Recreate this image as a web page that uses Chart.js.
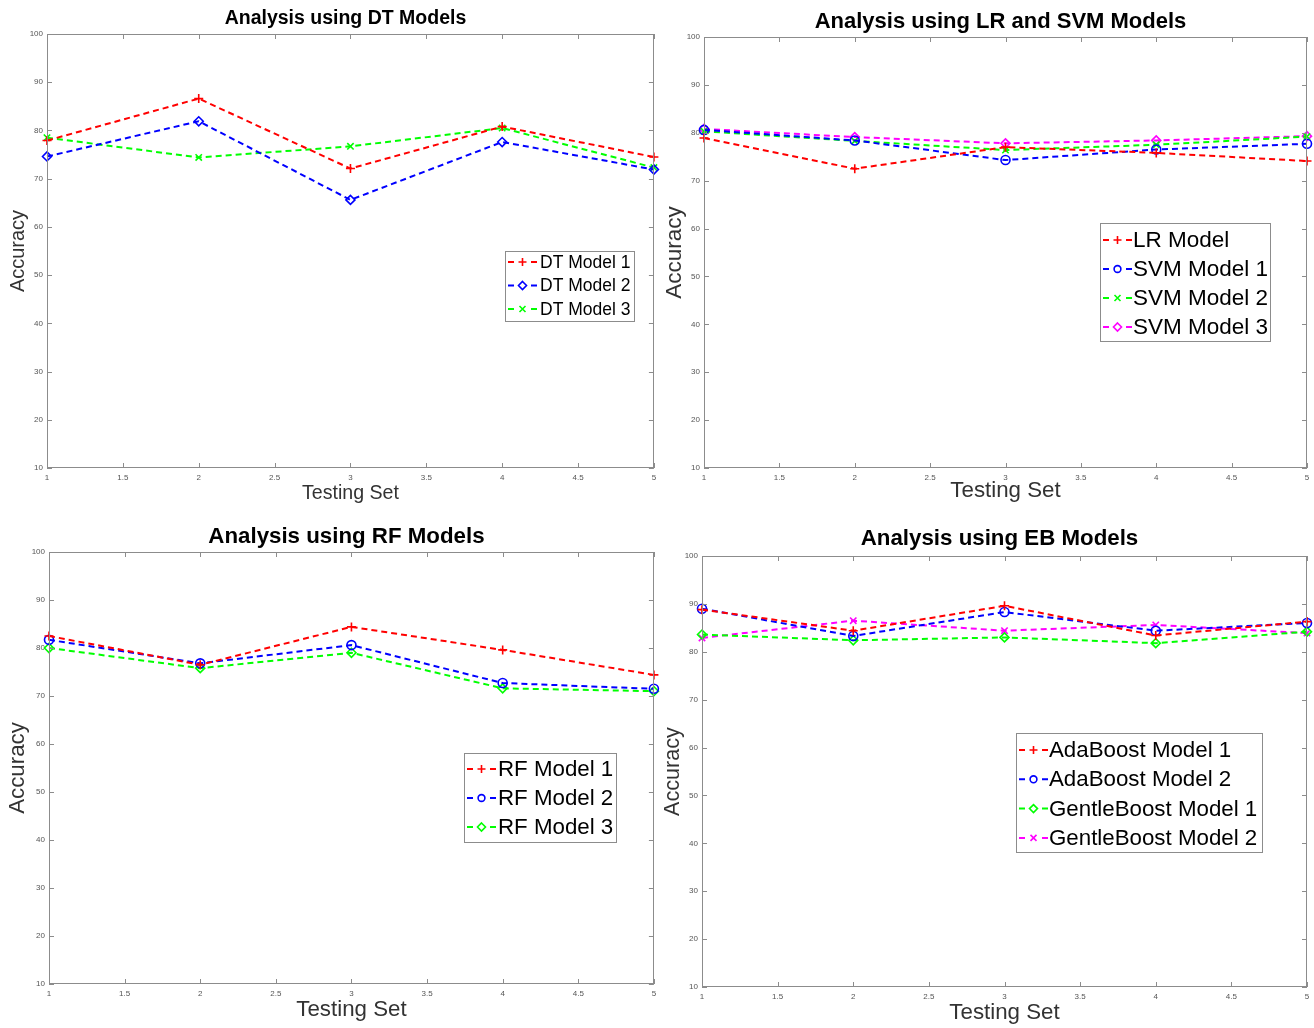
<!DOCTYPE html>
<html>
<head>
<meta charset="utf-8">
<script src="https://cdn.jsdelivr.net/npm/chart.js@4.4.1/dist/chart.umd.min.js"></script>
<style>
  body { margin: 0; background: #fff; width: 1314px; height: 1028px; position: relative; overflow: hidden; }
  canvas { position: absolute; }
</style>
</head>
<body>
<canvas id="dtChart" width="660" height="515" style="left:0;top:0;width:660px;height:515px"></canvas>
<canvas id="svmChart" width="654" height="515" style="left:660px;top:0;width:654px;height:515px"></canvas>
<canvas id="rfChart" width="660" height="513" style="left:0;top:515px;width:660px;height:513px"></canvas>
<canvas id="ebChart" width="654" height="513" style="left:660px;top:515px;width:654px;height:513px"></canvas>
<script>
// axes
const testingSet = [1, 2, 3, 4, 5];
const xTicks = [1, 1.5, 2, 2.5, 3, 3.5, 4, 4.5, 5];
const yTicks = [10, 20, 30, 40, 50, 60, 70, 80, 90, 100];

// DT panel
const dtModel1 = [77.9, 86.6, 72.1, 80.8, 74.5];
const dtModel2 = [74.6, 81.9, 65.6, 77.6, 71.9];
const dtModel3 = [78.5, 74.4, 76.7, 80.5, 72.3];

// LR / SVM panel
const lrModel = [78.9, 72.5, 77.0, 75.8, 74.1];
const svmModel1 = [80.6, 78.4, 74.3, 76.5, 77.7];
const svmModel2 = [80.3, 78.3, 76.4, 77.5, 79.2];
const svmModel3 = [80.8, 79.1, 77.8, 78.4, 79.3];

// RF panel
const rfModel1 = [82.5, 76.5, 84.4, 79.6, 74.4];
const rfModel2 = [81.7, 76.8, 80.6, 72.7, 71.5];
const rfModel3 = [80.0, 75.8, 79.0, 71.6, 71.0];

// EB panel
const adaModel1 = [88.8, 84.4, 89.6, 83.4, 86.3];
const adaModel2 = [89.0, 83.3, 88.3, 84.4, 86.0];
const gentleModel1 = [83.6, 82.4, 83.0, 81.8, 84.2];
const gentleModel2 = [82.9, 86.5, 84.4, 85.6, 83.9];

const FONT = '"Liberation Sans", Arial, Helvetica, sans-serif';
const RED = '#ff0000', BLUE = '#0000ff', GREEN = '#00ff00', MAGENTA = '#ff00ff';
const FRAME = '#8c8c8c';

function series(label, values, color, marker) {
    return {
        label: label,
        data: values.map((v, i) => ({ x: testingSet[i], y: v })),
        borderColor: color, backgroundColor: color,
        borderWidth: 2, borderDash: [6, 4],
        pointStyle: marker, pointRadius: 4.5, pointBorderWidth: 1.6,
        pointBorderColor: color, pointBackgroundColor: 'rgba(0,0,0,0)',
        tension: 0, fill: false, clip: false
    };
}

function drawMarker(ctx, style, x, y, r) {
    ctx.beginPath();
    if (style === 'cross') {
        ctx.moveTo(x - r, y); ctx.lineTo(x + r, y);
        ctx.moveTo(x, y - r); ctx.lineTo(x, y + r);
    } else if (style === 'crossRot') {
        const d = r * 0.75;
        ctx.moveTo(x - d, y - d); ctx.lineTo(x + d, y + d);
        ctx.moveTo(x - d, y + d); ctx.lineTo(x + d, y - d);
    } else if (style === 'rectRot') {
        ctx.moveTo(x, y - r); ctx.lineTo(x + r, y); ctx.lineTo(x, y + r); ctx.lineTo(x - r, y); ctx.closePath();
    } else {
        ctx.arc(x, y, r * 0.85, 0, Math.PI * 2);
    }
    ctx.stroke();
}

// box round the axes with inward ticks on all four sides (matlab look)
const framePlugin = {
    id: 'frame',
    afterDatasetsDraw(chart) {
        const { ctx, chartArea: a, scales } = chart;
        const t = 5;
        ctx.save();
        ctx.strokeStyle = FRAME;
        ctx.lineWidth = 1;
        ctx.setLineDash([]);
        ctx.strokeRect(Math.round(a.left) + 0.5, Math.round(a.top) + 0.5, Math.round(a.width) - 1, Math.round(a.height) - 1);
        ctx.beginPath();
        xTicks.forEach(v => {
            const px = Math.round(scales.x.getPixelForValue(v)) + 0.5;
            ctx.moveTo(px, a.bottom); ctx.lineTo(px, a.bottom - t);
            ctx.moveTo(px, a.top); ctx.lineTo(px, a.top + t);
        });
        yTicks.forEach(v => {
            const py = Math.round(scales.y.getPixelForValue(v)) + 0.5;
            ctx.moveTo(a.left, py); ctx.lineTo(a.left + t, py);
            ctx.moveTo(a.right, py); ctx.lineTo(a.right - t, py);
        });
        ctx.stroke();
        ctx.restore();
    }
};

// title centred over the axes, legend box inside the axes
const panelPlugin = {
    id: 'panel',
    afterDraw(chart, args, opts) {
        const { ctx, chartArea: a } = chart;
        ctx.save();
        ctx.fillStyle = '#000';
        ctx.font = 'bold ' + opts.titleSize + 'px ' + FONT;
        ctx.textAlign = 'center';
        ctx.textBaseline = 'middle';
        ctx.fillText(opts.title, (a.left + a.right) / 2 - 5, opts.titleY);

        const L = opts.legend;
        ctx.fillStyle = '#fff';
        ctx.fillRect(L.x, L.y, L.w, L.h);
        ctx.strokeStyle = FRAME;
        ctx.lineWidth = 1;
        ctx.strokeRect(L.x + 0.5, L.y + 0.5, L.w, L.h);
        ctx.font = L.size + 'px ' + FONT;
        ctx.textAlign = 'left';
        chart.data.datasets.forEach((ds, i) => {
            const cy = L.y + L.first + L.rowH * i;
            const mid = (L.x0 + L.x1) / 2;
            ctx.strokeStyle = ds.borderColor;
            ctx.lineWidth = 2;
            ctx.beginPath();
            ctx.moveTo(L.x0, cy); ctx.lineTo(L.x0 + 6, cy);
            ctx.moveTo(L.x1 - 6, cy); ctx.lineTo(L.x1, cy);
            ctx.stroke();
            ctx.lineWidth = 1.6;
            drawMarker(ctx, ds.pointStyle, mid, cy, 4);
            ctx.fillStyle = '#000';
            ctx.fillText(ds.label, L.tx, cy + 1);
        });
        ctx.restore();
    }
};

function makePanel(id, p) {
    const ctx = document.getElementById(id).getContext('2d');
    return new Chart(ctx, {
        type: 'line',
        data: { datasets: p.datasets },
        options: {
            responsive: false, animation: false, devicePixelRatio: 1,
            layout: { padding: { top: p.top, right: p.right, bottom: 0, left: 0 } },
            plugins: {
                legend: { display: false }, tooltip: { enabled: false }, title: { display: false },
                panel: { title: p.title, titleSize: p.titleSize, titleY: p.titleY, legend: p.legend }
            },
            scales: {
                x: {
                    type: 'linear', min: xTicks[0], max: xTicks[xTicks.length - 1],
                    afterBuildTicks: s => { s.ticks = xTicks.map(v => ({ value: v })); },
                    afterFit: s => { s.height = p.xH; s.paddingLeft = 0; s.paddingRight = 0; },
                    grid: { display: false, drawTicks: false }, border: { display: false },
                    ticks: { font: { size: 8, family: FONT }, color: '#555', padding: 5, maxRotation: 0, autoSkip: false,
                             callback: v => String(v) },
                    title: { display: true, text: 'Testing Set', color: '#333', font: { size: p.xTitleSize, family: FONT }, padding: { top: 0, bottom: p.xTitlePad } }
                },
                y: {
                    type: 'linear', min: yTicks[0], max: yTicks[yTicks.length - 1],
                    afterBuildTicks: s => { s.ticks = yTicks.map(v => ({ value: v })); },
                    afterFit: s => { s.width = p.yW; s.paddingTop = 0; s.paddingBottom = 0; },
                    grid: { display: false, drawTicks: false }, border: { display: false },
                    ticks: { font: { size: 8, family: FONT }, color: '#555', padding: 4, autoSkip: false,
                             callback: v => String(v) },
                    title: { display: true, text: 'Accuracy', color: '#333', font: { size: p.yTitleSize, family: FONT }, padding: { top: p.yTitlePad, bottom: 0 } }
                }
            }
        },
        plugins: [framePlugin, panelPlugin]
    });
}

makePanel('dtChart', {
    title: 'Analysis using DT Models', titleSize: 19.5, titleY: 19,
    top: 34, right: 4, yW: 47, xH: 47,
    xTitleSize: 19.6, xTitlePad: 10, yTitleSize: 20, yTitlePad: 6,
    legend: { x: 505, y: 251, w: 129, h: 70, first: 11, rowH: 23.5, size: 17.5, x0: 508, x1: 537, tx: 540 },
    datasets: [
        series('DT Model 1', dtModel1, RED, 'cross'),
        series('DT Model 2', dtModel2, BLUE, 'rectRot'),
        series('DT Model 3', dtModel3, GREEN, 'crossRot')
    ]
});

makePanel('svmChart', {
    title: 'Analysis using LR and SVM Models', titleSize: 22, titleY: 22,
    top: 37, right: 7, yW: 44, xH: 47,
    xTitleSize: 22.3, xTitlePad: 10.6, yTitleSize: 22.5, yTitlePad: 1.5,
    legend: { x: 440, y: 223, w: 170, h: 118, first: 17, rowH: 29, size: 22.5, x0: 443, x1: 472, tx: 473 },
    datasets: [
        series('LR Model', lrModel, RED, 'cross'),
        series('SVM Model 1', svmModel1, BLUE, 'circle'),
        series('SVM Model 2', svmModel2, GREEN, 'crossRot'),
        series('SVM Model 3', svmModel3, MAGENTA, 'rectRot')
    ]
});

makePanel('rfChart', {
    title: 'Analysis using RF Models', titleSize: 22.3, titleY: 22,
    top: 37, right: 5, yW: 49, xH: 44,
    xTitleSize: 22.3, xTitlePad: 4.6, yTitleSize: 22.3, yTitlePad: 4.6,
    legend: { x: 464, y: 238, w: 152, h: 89, first: 16, rowH: 29, size: 22.3, x0: 467, x1: 496, tx: 498 },
    datasets: [
        series('RF Model 1', rfModel1, RED, 'cross'),
        series('RF Model 2', rfModel2, BLUE, 'circle'),
        series('RF Model 3', rfModel3, GREEN, 'rectRot')
    ]
});

makePanel('ebChart', {
    title: 'Analysis using EB Models', titleSize: 22.3, titleY: 24,
    top: 41, right: 7, yW: 42, xH: 41,
    xTitleSize: 22.3, xTitlePad: 1.6, yTitleSize: 21.6, yTitlePad: 0,
    legend: { x: 356, y: 218, w: 246, h: 119, first: 17, rowH: 29.3, size: 22.3, x0: 359, x1: 388, tx: 389 },
    datasets: [
        series('AdaBoost Model 1', adaModel1, RED, 'cross'),
        series('AdaBoost Model 2', adaModel2, BLUE, 'circle'),
        series('GentleBoost Model 1', gentleModel1, GREEN, 'rectRot'),
        series('GentleBoost Model 2', gentleModel2, MAGENTA, 'crossRot')
    ]
});
</script>
</body>
</html>
